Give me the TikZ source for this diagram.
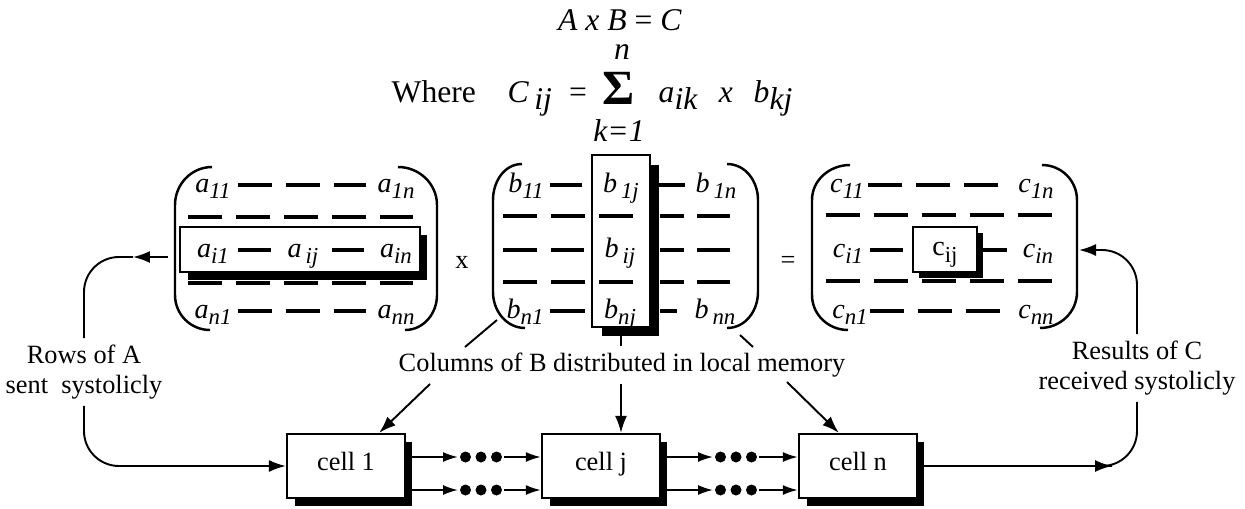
\documentclass[tikz,border=0pt]{standalone}
\usepackage{fontspec}
\setmainfont{Liberation Serif}
\usepackage{tikz}
\usetikzlibrary{arrows.meta, positioning, shadows}

\newcommand{\ent}[2]{\textit{#1}\raisebox{-0.5ex}{\fontsize{13}{13}\selectfont\textit{#2}}}

\begin{document}
\begin{tikzpicture}[x=0.02cm, y=0.02cm, line width=1.1pt,
					>={Latex[length=0.34cm, width=0.24cm]},
					txt/.style={font=\fontsize{15}{17}\selectfont, align=center},
					form/.style={font=\fontsize{18}{20}\selectfont, inner sep=1pt},
					elem/.style={anchor=base, font=\fontsize{16}{16}\selectfont, inner sep=1pt},
					boxshadow/.style={drop shadow={shadow xshift=#1, shadow yshift=-#1, fill=black, opacity=1}},
					cell/.style={rectangle, draw, fill=white, line width=1.3pt, minimum width=2.36cm, minimum height=1.28cm, text height=0.7em, text depth=0.22em, font=\fontsize{15}{17}\selectfont, boxshadow=0.15cm},
					hilite/.style={rectangle, draw, fill=white, line width=1.2pt, inner sep=0pt},
					paren/.style={line width=1.4pt},
					dashrow/.style={line width=1.8pt, dash pattern=on 0.68cm off 0.28cm},
					dashseg/.style={line width=1.8pt},
					arrow/.style={->},
					small arrow/.style={-{Latex[length=0.3cm, width=0.2cm]}},
					dots/.style={minimum width=0.88cm, minimum height=0.28cm, inner sep=0pt,
						path picture={\foreach \k in {-1,0,1} \fill ([xshift=\k*0.31cm]path picture bounding box.center) circle (0.11cm);}}
				]
	\useasboundingbox (0,0) rectangle (1245,-508);

	% Formula
	\node[form, inner sep=0pt, text height=0.66em, text depth=0pt] (eq) at (620,-25) {\textit{A x B} = \textit{C}};
	\node[form, anchor=base west] (where) at (389,-102) {Where};
	\node[form, anchor=base west] (cij) at (505,-102) {\textit{C}\,\raisebox{-0.5ex}{\textit{ij}}};
	\node[form, anchor=base] (eqs) at (578,-102) {=};
	\node[font=\fontsize{28}{28}\selectfont, inner sep=0pt, text height=0.68em, text depth=0pt, anchor=base] (sum) at (619,-104) {\textbf{Σ}};
	\node[form, inner sep=0pt, text height=0.45em, text depth=0pt] (sumn) at (622,-56) {\textit{n}};
	\node[form, inner sep=0pt] (sumk) at (619,-131) {\textit{k=1}};
	\node[form, anchor=base west] (aik) at (656,-102) {\textit{a}\raisebox{-0.5ex}{\textit{ik}}};
	\node[form, anchor=base] (times) at (726,-102) {\textit{x}};
	\node[form, anchor=base west] (bkj) at (751,-102) {\textit{b}\raisebox{-0.5ex}{\textit{kj}}};

	% Matrix A
	\node[hilite, minimum width=4.8cm, minimum height=0.9cm, boxshadow=0.15cm] (rowA) at (300,-249.5) {};
	\draw[paren] (212,-167) to[out=180, in=90] (175,-205) -- (175,-295) to[out=-90, in=180] (210,-330);
	\draw[paren] (398,-167) to[out=0, in=90] (437,-205) -- (437,-295) to[out=-90, in=0] (405,-330);
	\draw[dashrow] (238,-185) -- (366,-185);
	\draw[dashrow] (188,-217) -- (413,-217);
	\draw[dashseg] (238,-250) -- (271,-250) (332,-250) -- (364,-250);
	\draw[dashrow] (188,-283) -- (413,-283);
	\draw[dashrow] (238,-311) -- (366,-311);
	\node[elem] (a11) at (213,-192) {\ent{a}{11}};
	\node[elem] (a1n) at (396,-192) {\ent{a}{1n}};
	\node[elem] (ai1) at (213,-257) {\ent{a}{i1}};
	\node[elem] (aij) at (303,-257) {\ent{a}{\,ij}};
	\node[elem] (ain) at (396,-257) {\ent{a}{in}};
	\node[elem] (an1) at (213,-318) {\ent{a}{n1}};
	\node[elem] (ann) at (396,-318) {\ent{a}{nn}};

	\node[txt] (mulx) at (462,-262) {x};

	% Matrix B
	\node[hilite, minimum width=1.16cm, minimum height=3.44cm, boxshadow=0.19cm] (bcol) at (621,-241) {};
	\draw[paren] (522,-164) to[out=180, in=90] (493,-200) -- (493,-292) to[out=-90, in=180] (525,-328);
	\draw[paren] (727,-164) to[out=0, in=90] (758,-200) -- (758,-292) to[out=-90, in=0] (727,-328);
	\draw[dashseg] (550,-185) -- (582,-185) (655,-185) -- (685,-185);
	\draw[dashrow] (503,-216) -- (633,-216);
	\draw[dashseg] (660,-216) -- (684,-216) (697,-216) -- (730,-216);
	\draw[dashrow] (503,-250) -- (584,-250);
	\draw[dashseg] (660,-250) -- (684,-250) (697,-250) -- (730,-250);
	\draw[dashrow] (503,-282) -- (633,-282);
	\draw[dashseg] (660,-282) -- (684,-282) (697,-282) -- (730,-282);
	\draw[dashseg] (550,-311) -- (585,-311) (660,-311) -- (677,-311);
	\node[elem] (b11) at (526,-192) {\ent{b}{11}};
	\node[elem] (b1j) at (621,-192) {\ent{b}{\,1j}};
	\node[elem] (b1n) at (716,-192) {\ent{b}{\,1n}};
	\node[elem] (bij) at (620,-257) {\ent{b}{\,ij}};
	\node[elem] (bn1) at (525,-318) {\ent{b}{n1}};
	\node[elem] (bnj) at (620,-318) {\ent{b}{nj}};
	\node[elem] (bnn) at (715,-318) {\ent{b}{\,nn}};

	\node[txt] (eqC) at (788,-262) {=};

	% Matrix C
	\draw[paren] (850,-165) to[out=180, in=90] (812,-200) -- (812,-295) to[out=-90, in=180] (848,-330);
	\draw[paren] (1042,-165) to[out=0, in=90] (1077,-200) -- (1077,-292) to[out=-90, in=0] (1040,-328);
	\draw[dashrow] (868,-185) -- (1008,-185);
	\draw[dashrow] (826,-215) -- (1057,-215);
	\draw[dashseg] (870,-250) -- (903,-250) (983,-250) -- (1007,-250);
	\draw[dashrow] (826,-281) -- (1057,-281);
	\draw[dashrow] (870,-311) -- (1008,-311);
	\node[hilite, minimum width=1.28cm, minimum height=0.9cm, boxshadow=0.12cm, text height=8pt, text depth=0.8pt,
		font=\fontsize{16}{16}\selectfont] (cbox) at (945,-249.5) {c\raisebox{-0.5ex}{\fontsize{13}{13}\selectfont ij}};
	\node[elem] (c11) at (847,-192) {\ent{c}{11}};
	\node[elem] (c1n) at (1036,-192) {\ent{c}{1n}};
	\node[elem] (ci1) at (848,-257) {\ent{c}{i1}};
	\node[elem] (cin) at (1038,-257) {\ent{c}{in}};
	\node[elem] (cn1) at (850,-318) {\ent{c}{n1}};
	\node[elem] (cnn) at (1036,-318) {\ent{c}{nn}};

	% Labels
	\node[txt] (rowsA) at (84,-372) {Rows of A\\sent\ \ systolicly};
	\node[txt] (colsB) at (622,-365) {Columns of B distributed in local memory};
	\node[txt] (resC) at (1137,-368) {Results of C\\received systolicly};

	% Cells
	\node[cell] (cell1) at (346,-466) {cell 1};
	\node[cell] (cellj) at (601,-466) {cell j};
	\node[cell] (celln) at (858,-466) {cell n};
	\node[dots] (d1a) at (481,-457) {};
	\node[dots] (d1b) at (481,-490) {};
	\node[dots] (d2a) at (736,-457) {};
	\node[dots] (d2b) at (736,-490) {};

	% Coordinates
	\coordinate (aout) at (168,-257);
	\coordinate (abend) at (133,-257);
	\coordinate (cbend) at (1112,-466);
	\coordinate (cinto) at (1079,-250);
	\coordinate (bl) at (497,-320);
	\coordinate (blend) at (465,-347);
	\coordinate (br) at (740,-335);
	\coordinate (brend) at (753,-347);
	\coordinate (cl) at (430,-384);
	\coordinate (cr) at (787,-382);

	% Arrows
	\draw[arrow] (aout) -- (abend);
	\draw[rounded corners=0.7cm] (abend) -| (rowsA.north);
	\draw[arrow, rounded corners=0.7cm] (rowsA.south) |- (cell1.west);
	\draw[arrow] (celln.east) -- (cbend);
	\draw[rounded corners=0.7cm] (cbend) -| (resC.south);
	\draw[arrow, rounded corners=0.7cm] (resC.north) |- (cinto);

	\draw (bl) -- (blend);
	\draw (bcol.south) -- (colsB.north -| bcol.south);
	\draw (br) -- (brend);
	\draw[arrow] (cl) -- (cell1.45);
	\draw[arrow] (colsB.south -| bcol.south) -- (cellj.north -| bcol.south);
	\draw[arrow] (cr) -- (celln.120);

	\draw[small arrow] (cell1.east |- d1a) -- (d1a.west);
	\draw[small arrow] (d1a.east) -- (cellj.west |- d1a);
	\draw[small arrow] (cell1.east |- d1b) -- (d1b.west);
	\draw[small arrow] (d1b.east) -- (cellj.west |- d1b);
	\draw[small arrow] (cellj.east |- d2a) -- (d2a.west);
	\draw[small arrow] (d2a.east) -- (celln.west |- d2a);
	\draw[small arrow] (cellj.east |- d2b) -- (d2b.west);
	\draw[small arrow] (d2b.east) -- (celln.west |- d2b);
\end{tikzpicture}
\end{document}
